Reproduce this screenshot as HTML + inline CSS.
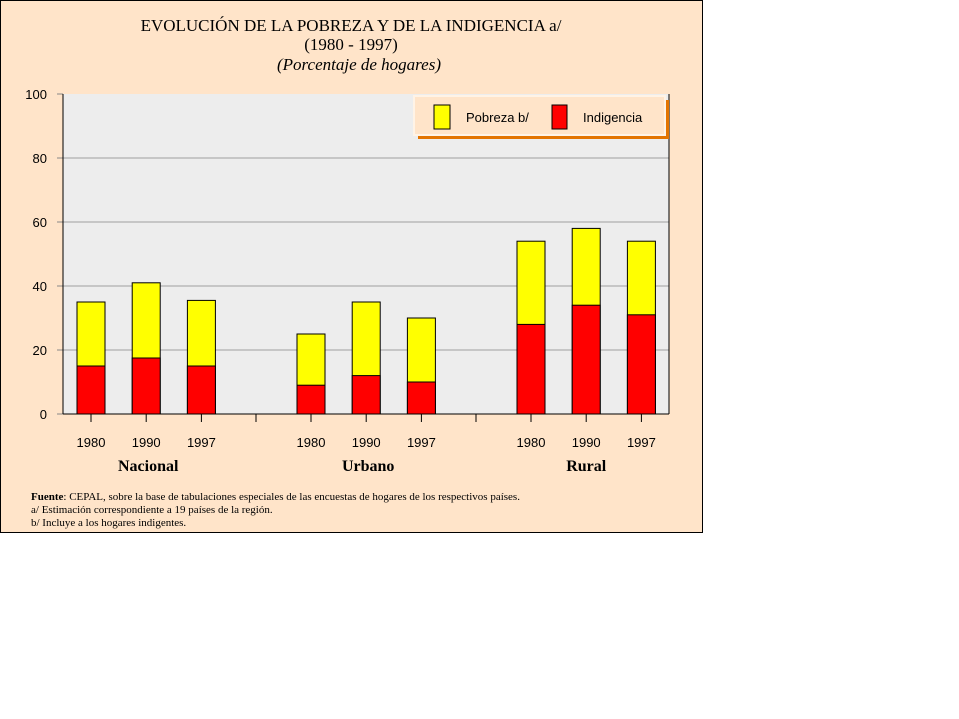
<!DOCTYPE html>
<html><head><meta charset="utf-8"><style>
body{margin:0;background:#fff;width:959px;height:719px;overflow:hidden}
svg{display:block}
</style></head><body>
<svg width="959" height="719">
<rect x="0.5" y="0.5" width="702" height="532" fill="#FFE4C9" stroke="#000"/>
<text x="351" y="31" text-anchor="middle" font-family="Liberation Serif, serif" font-size="17">EVOLUCIÓN DE LA POBREZA Y DE LA INDIGENCIA a/</text>
<text x="351" y="50" text-anchor="middle" font-family="Liberation Serif, serif" font-size="17">(1980 - 1997)</text>
<text x="359" y="70" text-anchor="middle" font-family="Liberation Serif, serif" font-size="17" font-style="italic">(Porcentaje de hogares)</text>
<rect x="63" y="94" width="606" height="320" fill="#EDEDED"/>
<g id="grid"></g>
<g id="bars"></g>
<line x1="63" y1="94" x2="63" y2="414" stroke="#000"/>
<line x1="63" y1="414" x2="669" y2="414" stroke="#000"/>
<line x1="669" y1="94" x2="669" y2="414" stroke="#000"/>
<g id="xlabels" font-family="Liberation Sans, sans-serif" font-size="13"></g>
<g id="groups" font-family="Liberation Serif, serif" font-size="16" font-weight="bold"></g>
<g>
<rect x="418" y="100" width="251" height="39" fill="#E37400"/>
<rect x="414" y="96" width="251" height="39" fill="#FFE4C9" stroke="#FFF3E6" stroke-width="2"/>
<rect x="434" y="105" width="16" height="24" fill="#FFFF00" stroke="#000"/>
<text x="466" y="122" font-family="Liberation Sans, sans-serif" font-size="13">Pobreza b/</text>
<rect x="552" y="105" width="15" height="24" fill="#FF0000" stroke="#000"/>
<text x="583" y="122" font-family="Liberation Sans, sans-serif" font-size="13">Indigencia</text>
</g>
<g font-family="Liberation Serif, serif" font-size="11">
<text x="31" y="500"><tspan font-weight="bold">Fuente</tspan>: CEPAL, sobre la base de tabulaciones especiales de las encuestas de hogares de los respectivos países.</text>
<text x="31" y="513">a/ Estimación correspondiente a 19 países de la región.</text>
<text x="31" y="526">b/ Incluye a los hogares indigentes.</text>
</g>
</svg>
<script>
const years=["1980","1990","1997","1980","1990","1997","1980","1990","1997"];
const groupNames=["Nacional","Urbano","Rural"];
const pobreza=[35,41,35.5,25,35,30,54,58,54];
const indigencia=[15,17.5,15,9,12,10,28,34,31];
const yTicks=[0,20,40,60,80,100];
const NS="http://www.w3.org/2000/svg";
function y(v){return 414-v*3.2;}
function xc(i){const g=Math.floor(i/3),k=i%3;return 91+g*220+k*55.2;}
function mk(t,a,p){const e=document.createElementNS(NS,t);for(const k in a)e.setAttribute(k,a[k]);p.appendChild(e);return e;}
const svg=document.querySelector('svg');
const grid=document.getElementById('grid');
yTicks.forEach(v=>{
 if(v>0&&v<100){const l=mk('line',{x1:63,x2:669,y1:y(v),y2:y(v),stroke:'#A0A0A0'},grid);
 
 }
 mk('line',{x1:57,x2:63,y1:y(v),y2:y(v),stroke:'#888'},grid);
 const t=mk('text',{x:47,y:y(v)+5,'text-anchor':'end','font-family':'Liberation Sans, sans-serif','font-size':13},grid);
 t.textContent=v;
 
 
});
const bars=document.getElementById('bars');
years.forEach((yr,i)=>{
 const cx=xc(i),w=28;
 const b1=mk('rect',{x:cx-w/2,y:y(pobreza[i]),width:w,height:y(0)-y(pobreza[i]),fill:'#FFFF00',stroke:'#000'},bars);
 
 
 const b2=mk('rect',{x:cx-w/2,y:y(indigencia[i]),width:w,height:y(0)-y(indigencia[i]),fill:'#FF0000',stroke:'#000'},bars);
 
 
 mk('line',{x1:cx,x2:cx,y1:414,y2:422,stroke:'#000'},bars);
 const t=mk('text',{x:cx,y:447,'text-anchor':'middle'},document.getElementById('xlabels'));
 t.textContent=yr;
 
 
});
[256,476].forEach(x=>mk('line',{x1:x,x2:x,y1:414,y2:422,stroke:'#000'},bars));
groupNames.forEach((g,j)=>{
 const t=mk('text',{x:xc(j*3+1)+(j==2?0:2),y:471,'text-anchor':'middle'},document.getElementById('groups'));
 t.textContent=g;
 
 
});
</script>
</body></html>
